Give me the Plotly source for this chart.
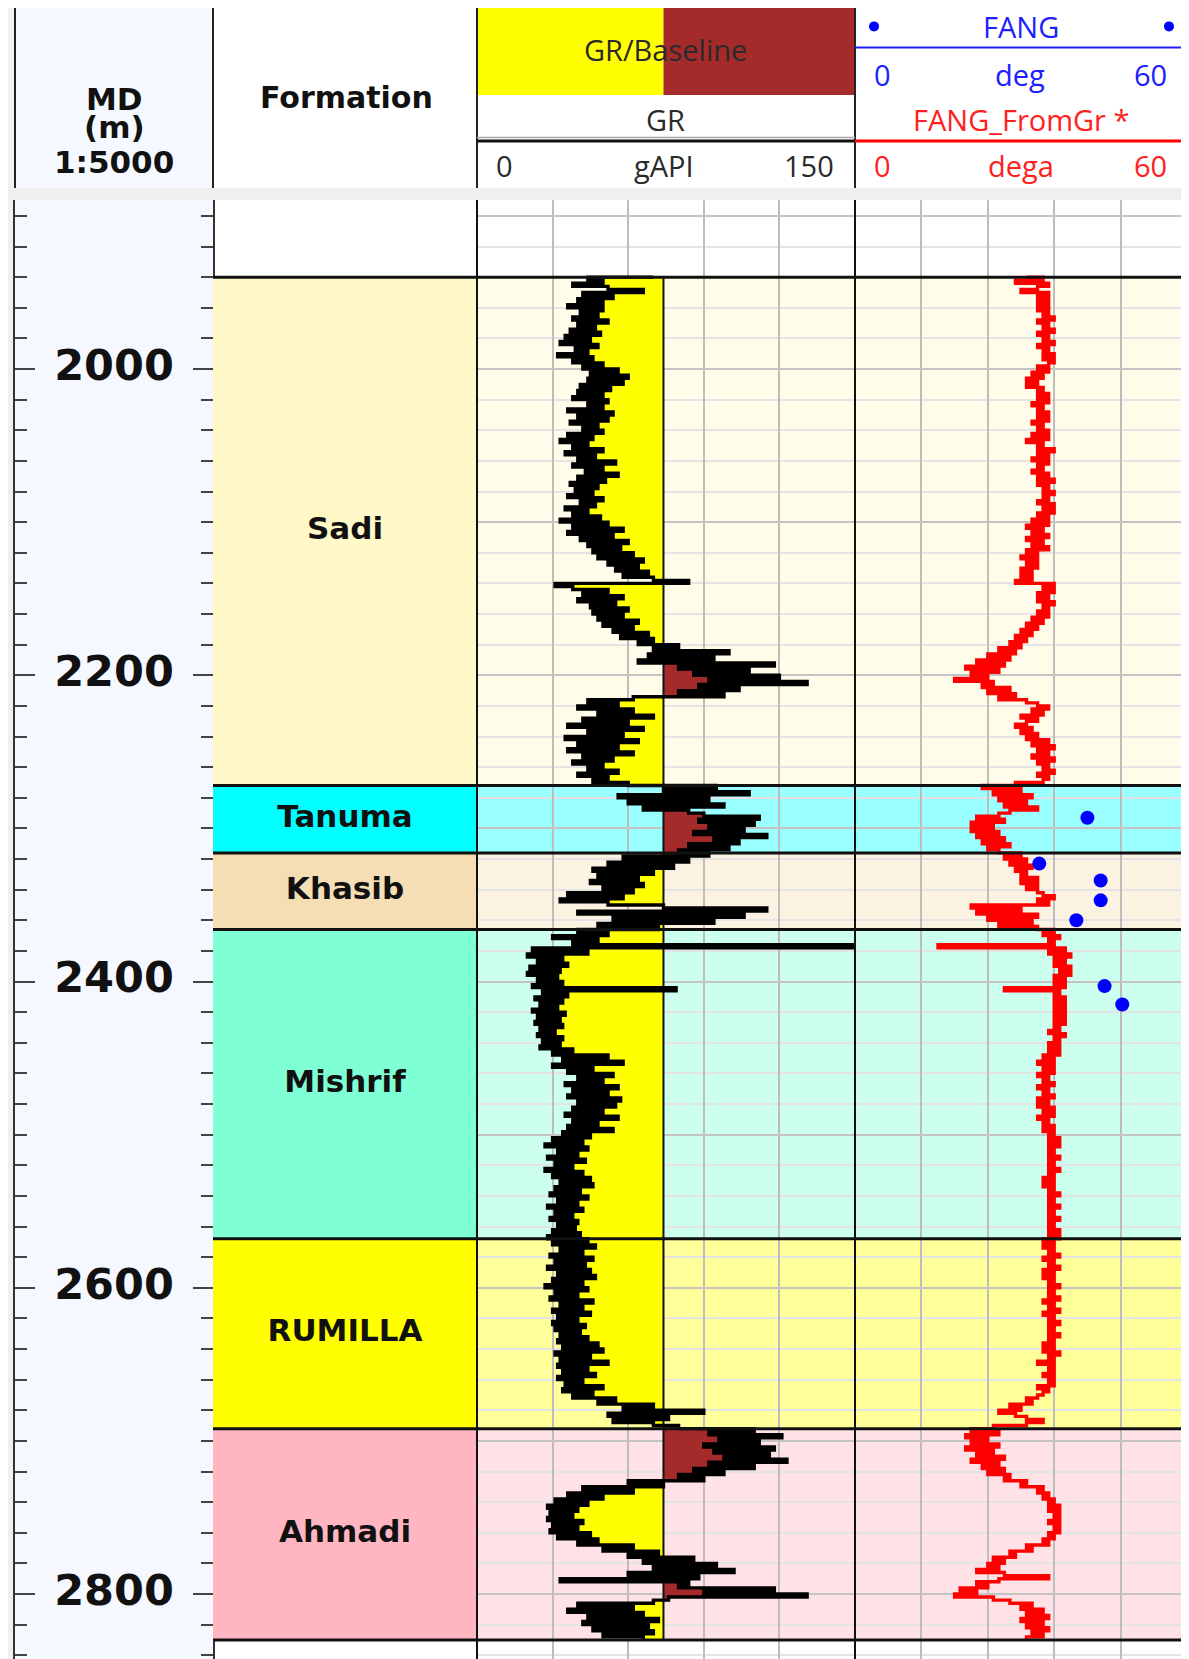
import numpy as np
import plotly.graph_objects as go

W, H = 1189, 1659          # browser window
OFF = 8                    # default page margin around the plot div
FW, FH = W - OFF, H - OFF  # figure size

# ---------------- data ----------------
formation_names = ["Sadi", "Tanuma", "Khasib", "Mishrif", "RUMILLA", "Ahmadi"]
formation_tops = [1940, 2272, 2316, 2366, 2568, 2692]
formation_base = 2830
formation_colors = ["#FFF8C8", "#00FFFF", "#F5DEB3", "#7FFFD4", "#FFFF00", "#FFB6C1"]

depth_tick_values = [2000, 2200, 2400, 2600, 2800]
depth_tick_labels = ["2000", "2200", "2400", "2600", "2800"]

GR_MIN, GR_MAX = 0, 150
FANG_MIN, FANG_MAX = 0, 60
GR_BASELINE = 74
SAMPLE_STEP = 2
segment_starts = [1940, 2272, 2316, 2368, 2568, 2692]

gr_sadi = [70, 44, 50, 38, 52, 66, 42, 54, 40, 50,
           36, 50, 41, 48, 38, 52, 40, 47, 37, 49,
           35, 45, 33, 48, 39, 44, 32, 46, 38, 50,
           42, 56, 45, 60, 44, 58, 41, 53, 40, 50,
           38, 52, 44, 50, 36, 54, 40, 52, 37, 48,
           42, 50, 36, 46, 33, 44, 38, 50, 35, 47,
           40, 55, 38, 50, 43, 56, 40, 51, 37, 48,
           39, 46, 36, 50, 41, 47, 35, 44, 38, 49,
           33, 52, 38, 58, 36, 54, 41, 60, 44, 57,
           46, 62, 48, 66, 52, 64, 55, 68, 58, 70,
           84, 31, 38, 52, 42, 58, 40, 55, 45, 60,
           46, 58, 48, 64, 50, 62, 54, 68, 57, 70,
           64, 80, 70, 100, 68, 94, 64, 118, 80, 108,
           86, 120, 92, 131, 88, 104, 80, 98, 62, 44,
           56, 40, 62, 48, 70, 42, 60, 36, 66, 44,
           58, 35, 64, 40, 56, 36, 62, 42, 54, 38,
           50, 44, 56, 40, 52, 46]
gr_tanuma = [60, 95, 74, 108, 56, 92, 60, 98, 66, 84, 90,
             112, 88, 110, 92, 106, 86, 115, 94, 104, 84, 100]
gr_khasib = [80, 92, 58, 84, 52, 78, 46, 70, 48, 64, 45, 66, 50,
             62, 36, 58, 33, 52, 74, 115, 40, 106, 54, 94, 48, 72]
gr_mishrif = [40, 52, 30, 48, 38, 149, 22, 44, 20, 34,
              24, 36, 21, 33, 20, 32, 24, 34, 22, 79,
              26, 36, 23, 34, 25, 32, 22, 35, 24, 33,
              23, 34, 25, 31, 24, 34, 26, 33, 25, 38,
              30, 52, 34, 58, 30, 46, 36, 54, 40, 50,
              35, 56, 38, 52, 36, 57, 40, 55, 38, 50,
              35, 56, 38, 48, 36, 54, 34, 45, 30, 42,
              27, 44, 32, 40, 28, 43, 31, 38, 27, 42,
              30, 45, 33, 46, 31, 41, 29, 44, 32, 40,
              28, 42, 31, 38, 29, 40, 32, 39, 30, 41]
gr_rumilla = [28, 44, 30, 47, 33, 42, 29, 46, 31, 43,
              28, 45, 32, 47, 30, 42, 27, 44, 31, 40,
              29, 46, 33, 42, 30, 45, 32, 40, 30, 43,
              31, 41, 33, 44, 32, 48, 34, 50, 31, 45,
              33, 52, 32, 44, 34, 47, 32, 42, 35, 50,
              34, 46, 38, 55, 48, 70, 58, 90, 52, 76, 54, 70]
gr_ahmadi = [80, 110, 92, 121, 96, 112, 90, 118, 94, 116,
             98, 123, 92, 110, 86, 98, 80, 90, 60, 74,
             42, 62, 36, 50, 31, 44, 28, 40, 29, 38,
             28, 42, 30, 40, 29, 45, 32, 48, 40, 62,
             50, 72, 60, 86, 66, 95, 70, 102, 60, 88,
             33, 84, 80, 118, 90, 131, 76, 70, 40, 62,
             36, 66, 44, 72, 42, 68, 46, 70, 50, 66]

fang_gr_sadi = [31, 34, 29, 35, 33, 30, 35, 33, 35, 33,
                35, 33, 35, 34, 36, 33, 35, 34, 36, 33,
                35, 34, 36, 33, 35, 34, 36, 34, 36, 35,
                33, 35, 32, 34, 31, 33, 31, 34, 33, 35,
                33, 35, 32, 34, 33, 35, 33, 35, 32, 34,
                33, 35, 32, 35, 31, 34, 33, 36, 33, 35,
                32, 35, 33, 34, 32, 35, 33, 36, 33, 35,
                34, 36, 34, 35, 33, 36, 34, 36, 33, 35,
                32, 35, 31, 34, 32, 35, 31, 34, 32, 35,
                31, 33, 30, 33, 31, 33, 30, 32, 30, 32,
                29, 36, 34, 36, 33, 35, 33, 36, 34, 35,
                33, 35, 32, 34, 31, 33, 30, 32, 29, 31,
                28, 30, 26, 29, 24, 28, 22, 27, 20, 26,
                21, 24, 18, 25, 23, 28, 24, 29, 26, 31,
                33, 35, 32, 34, 30, 33, 31, 29, 32, 30,
                33, 31, 35, 32, 36, 33, 35, 32, 36, 33,
                35, 34, 36, 33, 35, 34]
fang_gr_tanuma = [29, 23, 30, 25, 32, 26, 31, 27, 33, 28, 26,
                  22, 27, 21, 25, 21, 26, 22, 27, 23, 28, 24]
fang_gr_khasib = [26, 30, 27, 31, 28, 32, 29, 31, 30, 33, 30, 33, 31,
                  33, 34, 36, 33, 35, 21, 30, 22, 33, 24, 32, 26, 33]
fang_gr_mishrif = [36, 34, 37, 35, 36, 15, 38, 35, 39, 36,
                   38, 36, 39, 37, 39, 36, 38, 36, 38, 27,
                   37, 36, 38, 36, 38, 36, 38, 36, 38, 36,
                   38, 36, 37, 35, 38, 36, 37, 35, 37, 35,
                   37, 34, 36, 33, 36, 34, 36, 33, 35, 34,
                   36, 33, 35, 34, 36, 33, 35, 33, 36, 34,
                   36, 33, 35, 34, 36, 34, 36, 35, 37, 35,
                   37, 35, 36, 35, 37, 35, 36, 35, 37, 35,
                   36, 34, 36, 34, 36, 35, 37, 35, 36, 35,
                   37, 35, 36, 35, 37, 35, 36, 35, 37, 35]
fang_gr_rumilla = [37, 34, 36, 34, 36, 35, 37, 34, 36, 35,
                   37, 34, 36, 34, 36, 35, 37, 35, 36, 35,
                   37, 34, 36, 35, 37, 34, 36, 35, 37, 35,
                   36, 35, 37, 35, 36, 34, 36, 34, 37, 35,
                   36, 33, 36, 35, 36, 34, 36, 35, 36, 33,
                   35, 34, 33, 31, 32, 28, 30, 26, 29, 31, 34, 31]
fang_gr_ahmadi = [25, 21, 26, 20, 24, 21, 26, 20, 25, 22,
                  27, 21, 26, 23, 27, 24, 28, 27, 31, 30,
                  34, 33, 35, 34, 36, 35, 37, 35, 37, 36,
                  37, 35, 37, 36, 37, 35, 36, 34, 35, 31,
                  32, 28, 29, 25, 27, 24, 26, 22, 27, 35,
                  26, 22, 24, 19, 22, 18, 25, 28, 32, 30,
                  34, 31, 35, 30, 34, 31, 35, 32, 34, 31]

fang_depth = [2293, 2323, 2334, 2347, 2360, 2403, 2415]
fang_value = [42.0, 33.3, 44.4, 44.4, 40.0, 45.1, 48.3]

# ---------------- assemble curves ----------------
gr_segments = [gr_sadi, gr_tanuma, gr_khasib, gr_mishrif, gr_rumilla, gr_ahmadi]
fg_segments = [fang_gr_sadi, fang_gr_tanuma, fang_gr_khasib, fang_gr_mishrif,
               fang_gr_rumilla, fang_gr_ahmadi]


def seg_depths(segs):
    out = []
    for s0, seg in zip(segment_starts, segs):
        out.extend(list(s0 + SAMPLE_STEP * np.arange(len(seg))))
    return np.array(out, dtype=float)


gr_depth = seg_depths(gr_segments)
gr = np.array([v for s in gr_segments for v in s], dtype=float)
fg_depth = seg_depths(fg_segments)
fg = np.array([v for s in fg_segments for v in s], dtype=float)

# ---------------- geometry (page pixels) ----------------
X_DEPTH0, X_FORM0, X_GR0, X_FANG0, X_END = 15, 213, 477, 855, 1187
HDR_TOP, HDR_BOT, BODY_TOP = 8, 188, 200
DEPTH_TOP, DEPTH_BOTTOM = 1889.6, 2842.45


def px(x):
    return (x - OFF) / FW


def py(y):
    return 1 - (y - OFF) / FH


ydom = [0, py(BODY_TOP)]
yr = [DEPTH_BOTTOM, DEPTH_TOP]

fig = go.Figure()

# depth labels (depth track)
fig.add_trace(go.Scatter(
    x=[0.5] * len(depth_tick_values), y=depth_tick_values, text=depth_tick_labels,
    mode="text", xaxis="x", yaxis="y", hoverinfo="skip", showlegend=False,
    textfont=dict(family="DejaVu Sans", size=43, color="#111111", weight="bold")))
fig.add_trace(go.Scatter(x=[None], y=[None], xaxis="x", yaxis="y5",
                         showlegend=False, hoverinfo="skip"))

# formation labels
bounds = formation_tops + [formation_base]
mids = [(bounds[i] + bounds[i + 1]) / 2 for i in range(len(formation_names))]
fig.add_trace(go.Scatter(
    x=[0.5] * len(formation_names), y=mids, text=formation_names, mode="text",
    xaxis="x2", yaxis="y2", hoverinfo="skip", showlegend=False,
    textfont=dict(family="DejaVu Sans", size=31, color="#111111", weight="bold")))

# GR fills
base = np.full_like(gr, GR_BASELINE)
common = dict(xaxis="x3", yaxis="y3", mode="lines", hoverinfo="skip", showlegend=False)
fig.add_trace(go.Scatter(x=base, y=gr_depth, line=dict(width=0), **common))
fig.add_trace(go.Scatter(x=np.minimum(gr, GR_BASELINE), y=gr_depth,
                         line=dict(width=0, shape="hv"),
                         fill="tonextx", fillcolor="#FFFF00", **common))
fig.add_trace(go.Scatter(x=base, y=gr_depth, line=dict(width=0), **common))
fig.add_trace(go.Scatter(x=np.maximum(gr, GR_BASELINE), y=gr_depth,
                         line=dict(width=0, shape="hv"),
                         fill="tonextx", fillcolor="#A52A2A", **common))
fig.add_trace(go.Scatter(x=[GR_BASELINE, GR_BASELINE], y=[formation_tops[0], formation_base],
                         line=dict(color="#111111", width=2), **common))
fig.add_trace(go.Scatter(x=gr, y=gr_depth, line=dict(color="black", width=3.4, shape="hv"),
                         **common))

# FANG track
fig.add_trace(go.Scatter(x=fg, y=fg_depth, xaxis="x4", yaxis="y4", mode="lines",
                         line=dict(color="#FF0000", width=3.4, shape="hv"),
                         hoverinfo="skip", showlegend=False))
fig.add_trace(go.Scatter(x=fang_value, y=fang_depth, xaxis="x4", yaxis="y4", mode="markers",
                         marker=dict(color="#0000FF", size=14), hoverinfo="skip",
                         showlegend=False))

# ---------------- shapes ----------------
shapes = []


def rect(x0, y0, x1, y1, fill, layer="below"):
    shapes.append(dict(type="rect", xref="paper", yref="paper", x0=px(x0), x1=px(x1),
                       y0=py(y1), y1=py(y0), fillcolor=fill, line=dict(width=0), layer=layer))


def line_px(x0, y0, x1, y1, color, w):
    shapes.append(dict(type="line", xref="paper", yref="paper", x0=px(x0), x1=px(x1),
                       y0=py(y0), y1=py(y1), line=dict(color=color, width=w), layer="above"))


def tint(hexcol, f=0.6):
    r, g, b = int(hexcol[1:3], 16), int(hexcol[3:5], 16), int(hexcol[5:7], 16)
    r, g, b = [round(c + (255 - c) * f) for c in (r, g, b)]
    return "#%02X%02X%02X" % (r, g, b)


rect(OFF, OFF, X_DEPTH0, H, "#F0F0F0")
rect(X_END, OFF, W, H, "#F4F4F4")
rect(X_DEPTH0, HDR_TOP, X_FORM0, H, "#F5F8FE")
rect(OFF, HDR_BOT, W, BODY_TOP, "#EFEFEF")

x_base_px = X_GR0 + (GR_BASELINE - GR_MIN) / (GR_MAX - GR_MIN) * (X_FANG0 - X_GR0)
rect(X_GR0, HDR_TOP, x_base_px, 95, "#FFFF00")
rect(x_base_px, HDR_TOP, X_FANG0, 95, "#A52A2A")

for i, name in enumerate(formation_names):
    t, b = bounds[i], bounds[i + 1]
    shapes.append(dict(type="rect", xref="x2", yref="y2", x0=0, x1=1, y0=t, y1=b,
                       fillcolor=formation_colors[i], line=dict(width=0), layer="below"))
    shapes.append(dict(type="rect", xref="paper", yref="y3", x0=px(X_GR0), x1=px(X_END),
                       y0=t, y1=b, fillcolor=tint(formation_colors[i]),
                       line=dict(width=0), layer="below"))

for d in bounds:
    shapes.append(dict(type="line", xref="paper", yref="y", x0=px(X_FORM0), x1=px(X_END),
                       y0=d, y1=d, line=dict(color="#111111", width=3), layer="above"))

# header / track borders
for x in [X_DEPTH0, X_FORM0, X_GR0, X_FANG0, X_END]:
    line_px(x, HDR_TOP, x, HDR_BOT, "#222222", 2)
for x in [X_GR0, X_FANG0, X_END]:
    line_px(x, BODY_TOP, x, H, "#111111", 2)
line_px(X_GR0, 137.5, X_FANG0, 137.5, "#AAAAAA", 1.5)
line_px(X_GR0, 141, X_FANG0, 141, "#111111", 3)
line_px(X_FANG0, 47.6, X_END, 47.6, "#2020FF", 2)
line_px(X_FANG0, 141, X_END, 141, "#FF0000", 3)
for cx in [874, 1169]:
    shapes.append(dict(type="circle", xref="paper", yref="paper", xsizemode="pixel",
                       ysizemode="pixel", xanchor=px(cx), yanchor=py(26.4),
                       x0=-5, x1=5, y0=-5, y1=5, fillcolor="#0000FF",
                       line=dict(width=0), layer="above"))

# ---------------- header texts ----------------
annotations = []


def ann(text, x, y, size, color, bold=False, xanchor="center", family="Open Sans"):
    annotations.append(dict(text=text, x=px(x), y=py(y), xref="paper", yref="paper",
                            xanchor=xanchor, yanchor="middle", showarrow=False,
                            font=dict(family=family, size=size, color=color,
                                      weight="bold" if bold else "normal")))


HF = 29
ann("MD", 114, 99, 31, "#111111", True, family="DejaVu Sans")
ann("(m)", 114, 127, 31, "#111111", True, family="DejaVu Sans")
ann("1:5000", 114, 162, 31, "#111111", True, family="DejaVu Sans")
ann("Formation", 346, 97, 30, "#111111", True, family="DejaVu Sans")
ann("GR/Baseline", 665, 50, HF, "#2A2A2A")
ann("GR", 665, 119.5, HF, "#2A2A2A")
ann("0", 494, 166, HF, "#2A2A2A", xanchor="left")
ann("gAPI", 664, 166, HF, "#2A2A2A")
ann("150", 836, 166, HF, "#2A2A2A", xanchor="right")
ann("FANG", 1021, 26.4, HF, "#2020FF")
ann("0", 872, 74, HF, "#2020FF", xanchor="left")
ann("deg", 1020, 74, HF, "#2020FF")
ann("60", 1169, 74, HF, "#2020FF", xanchor="right")
ann("FANG_FromGr *", 1021, 119.5, HF, "#FF2020")
ann("0", 872, 166, HF, "#FF2020", xanchor="left")
ann("dega", 1021, 166, HF, "#FF2020")
ann("60", 1169, 166, HF, "#FF2020", xanchor="right")

# ---------------- axes ----------------
hidden = dict(showgrid=False, zeroline=False, showticklabels=False, ticks="", showline=False)
depth_ticks = dict(domain=ydom, range=yr, autorange=False, showgrid=False, zeroline=False,
                   showticklabels=False, ticks="inside", tick0=0, dtick=200, ticklen=20,
                   tickwidth=2, tickcolor="#444444", showline=True, linecolor="#333333",
                   linewidth=2,
                   minor=dict(ticks="inside", tick0=0, dtick=20, ticklen=12, tickwidth=2,
                              tickcolor="#444444", showgrid=False))
track_y = dict(domain=ydom, range=yr, autorange=False, zeroline=False, showticklabels=False,
               ticks="", showgrid=True, tick0=0, dtick=100, gridcolor="#C4C4C4", gridwidth=2,
               minor=dict(tick0=0, dtick=20, showgrid=True, gridcolor="#E4E4E4", gridwidth=2))

fig.update_layout(
    width=FW, height=FH, margin=dict(l=0, r=0, t=0, b=0),
    paper_bgcolor="white", plot_bgcolor="white", hovermode=False, showlegend=False,
    xaxis=dict(domain=[px(X_DEPTH0), px(X_FORM0)], range=[0, 1], anchor="y", **hidden),
    yaxis=dict(anchor="x", side="left", **depth_ticks),
    yaxis5=dict(anchor="x", side="right", overlaying="y", **depth_ticks),
    xaxis2=dict(domain=[px(X_FORM0), px(X_GR0)], range=[0, 1], anchor="y2", **hidden),
    yaxis2=dict(domain=ydom, range=yr, autorange=False, anchor="x2", **hidden),
    xaxis3=dict(domain=[px(X_GR0), px(X_FANG0)], range=[GR_MIN, GR_MAX], anchor="y3",
                showgrid=True, tick0=0, dtick=30, gridcolor="#BDBDBD", gridwidth=2,
                zeroline=False, showticklabels=False, ticks=""),
    yaxis3=dict(anchor="x3", **track_y),
    xaxis4=dict(domain=[px(X_FANG0), px(X_END)], range=[FANG_MIN, FANG_MAX], anchor="y4",
                showgrid=True, tick0=0, dtick=12, gridcolor="#BDBDBD", gridwidth=2,
                zeroline=False, showticklabels=False, ticks=""),
    yaxis4=dict(anchor="x4", **track_y),
    shapes=shapes, annotations=annotations,
)

fig.write_html("out.html", config={"displayModeBar": False})
